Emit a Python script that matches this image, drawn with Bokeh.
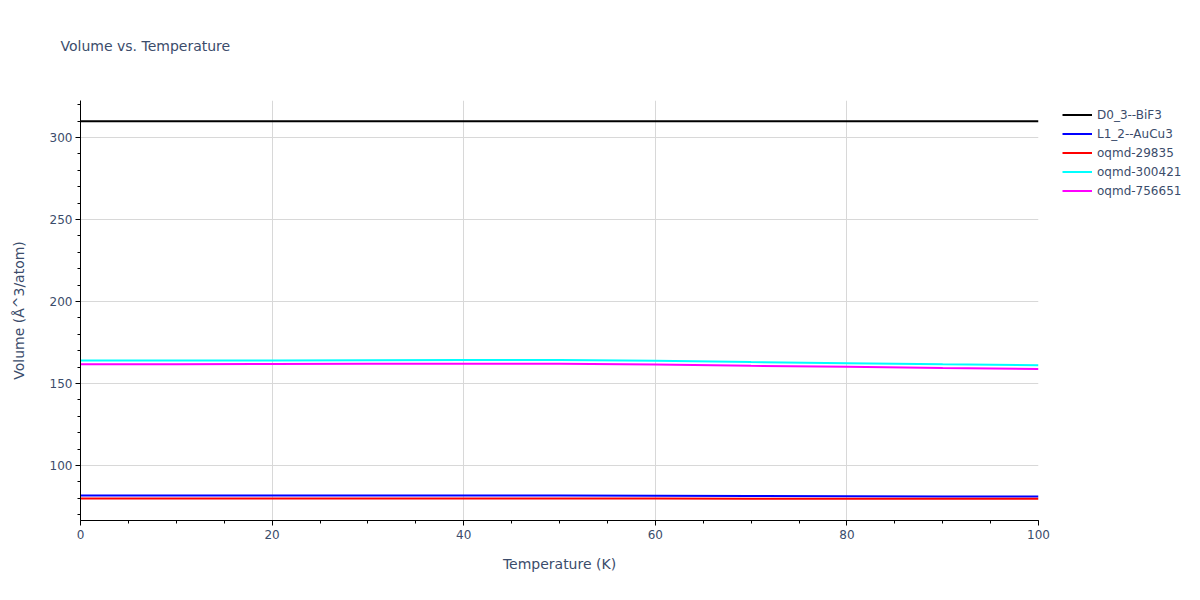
from bokeh.plotting import figure
from bokeh.layouts import row, column
from bokeh.models import Range1d, FixedTicker, Legend, LegendItem, Label
from bokeh.embed import file_html
from bokeh.resources import INLINE

# Data
temperature = [0, 10, 20, 30, 40, 50, 60, 70, 80, 90, 100]
d0_3_bif3 = [309.9, 309.9, 309.9, 309.9, 309.9, 309.9, 309.9, 309.9, 309.9, 309.9, 309.9]
l1_2_aucu3 = [81.7, 81.7, 81.7, 81.7, 81.8, 81.8, 81.6, 81.4, 81.3, 81.2, 81.1]
oqmd_29835 = [79.9, 79.9, 79.9, 79.9, 79.9, 79.9, 79.9, 79.8, 79.8, 79.8, 79.7]
oqmd_300421 = [164.0, 164.0, 164.1, 164.2, 164.3, 164.4, 163.9, 163.1, 162.4, 161.7, 161.1]
oqmd_756651 = [161.8, 161.8, 161.9, 162.0, 162.1, 162.1, 161.6, 160.8, 160.2, 159.4, 158.8]

series = [
    ("D0_3--BiF3", d0_3_bif3, "black"),
    ("L1_2--AuCu3", l1_2_aucu3, "blue"),
    ("oqmd-29835", oqmd_29835, "red"),
    ("oqmd-300421", oqmd_300421, "cyan"),
    ("oqmd-756651", oqmd_756651, "magenta"),
]

x_major = [0, 20, 40, 60, 80, 100]
x_minor = [5 * i for i in range(21)]
y_major = [100, 150, 200, 250, 300]
y_minor = [70, 80, 90, 100, 110, 120, 130, 140, 150, 160, 170, 180, 190, 200,
           210, 220, 230, 240, 250, 260, 270, 280, 290, 300, 310, 320]

FONT = "DejaVu Sans"
TXT = "#3b4c6b"

# header strip holding the chart title
hd = figure(width=1184, height=60, output_backend="svg", toolbar_location=None,
            x_axis_location=None, y_axis_location=None, min_border=0,
            x_range=Range1d(0, 1184), y_range=Range1d(60, 0))
hd.outline_line_color = None
hd.grid.visible = False
hd.add_layout(Label(x=60, y=45, text="Volume vs. Temperature", text_font=FONT,
                    text_font_size="14px", text_color=TXT, text_baseline="middle"))

p = figure(width=1058, height=524, output_backend="svg", toolbar_location=None,
           x_range=Range1d(0, 100), y_range=Range1d(66.5, 322.5),
           min_border_left=80, min_border_right=20, min_border_top=40, min_border_bottom=64)
p.outline_line_color = None
p.background_fill_color = "white"
p.border_fill_color = "white"

for name, vals, color in series:
    p.line(temperature, vals, line_color=color, line_width=2)

for ax in (p.xaxis[0], p.yaxis[0]):
    ax.axis_line_color = "black"
    ax.axis_line_width = 1
    ax.major_tick_line_color = "black"
    ax.minor_tick_line_color = "black"
    ax.major_tick_in = 0
    ax.major_tick_out = 5
    ax.minor_tick_in = 0
    ax.minor_tick_out = 3
    ax.major_label_text_font = FONT
    ax.major_label_text_font_size = "12px"
    ax.major_label_text_color = TXT
    ax.axis_label_text_font = FONT
    ax.axis_label_text_font_size = "14px"
    ax.axis_label_text_font_style = "normal"
    ax.axis_label_text_color = TXT

p.xaxis.ticker = FixedTicker(ticks=x_major, minor_ticks=x_minor)
p.yaxis.ticker = FixedTicker(ticks=y_major, minor_ticks=y_minor)
p.xaxis.axis_label = "Temperature (K)"
p.yaxis.axis_label = "Volume (Å^3/atom)"
p.xaxis.axis_label_standoff = 14
p.yaxis.axis_label_standoff = 20
p.xaxis.major_label_standoff = 4
p.yaxis.major_label_standoff = 3

p.xgrid.ticker = FixedTicker(ticks=x_major)
p.ygrid.ticker = FixedTicker(ticks=y_major)
p.xgrid.grid_line_color = "#d8d8d8"
p.ygrid.grid_line_color = "#d8d8d8"

# legend lives in its own narrow panel to the right of the plot
lg = figure(width=126, height=524, output_backend="svg", toolbar_location=None,
            x_axis_location=None, y_axis_location=None, min_border=0,
            x_range=Range1d(0, 1), y_range=Range1d(0, 1))
lg.outline_line_color = None
lg.grid.visible = False
items = []
for name, vals, color in series:
    # same series, outside this panel's ranges: only the legend swatch shows
    r = lg.line(temperature, vals, line_color=color, line_width=2)
    items.append(LegendItem(label=name, renderers=[r]))

legend = Legend(items=items, location=(4, 320), spacing=0, label_height=19, glyph_height=19,
                glyph_width=30, label_standoff=5, padding=4, margin=0, label_text_font=FONT,
                label_text_font_size="12px", label_text_color=TXT,
                border_line_color=None, background_fill_alpha=0)
lg.add_layout(legend, "center")

layout = column(hd, row(p, lg, spacing=0), spacing=0)
open("out.html", "w").write(file_html(layout, INLINE))
